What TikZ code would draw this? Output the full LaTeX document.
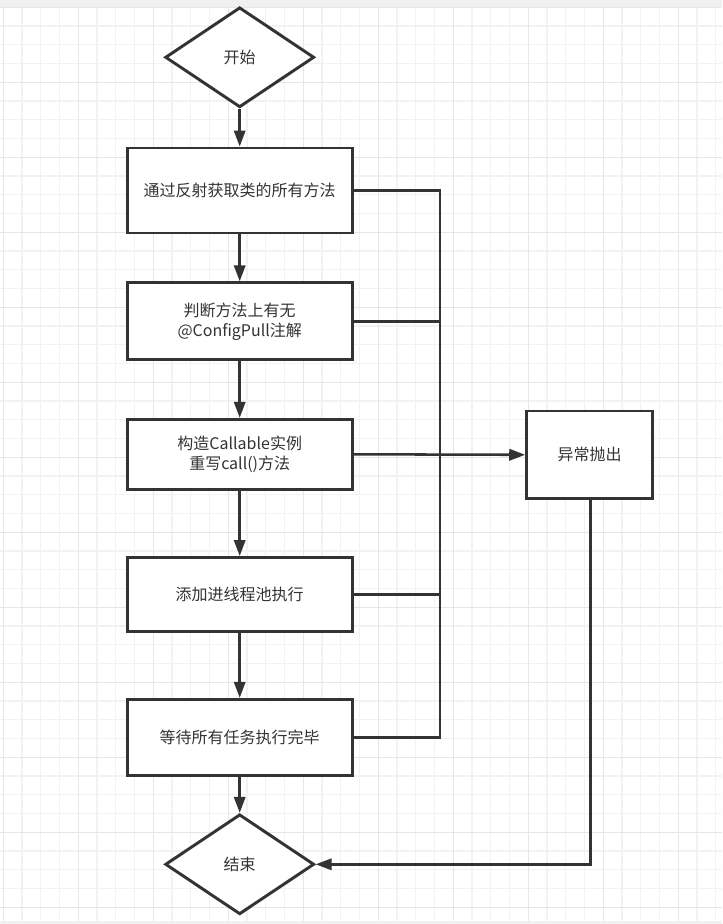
\documentclass[tikz,border=0pt]{standalone}
\usepackage{fontspec}
\setmainfont{Noto Sans CJK SC}
\usetikzlibrary{shapes.geometric,arrows.meta}
\definecolor{ink}{RGB}{51,51,51}
\definecolor{gridminor}{RGB}{242,242,242}
\definecolor{gridmajor}{RGB}{230,230,230}
\definecolor{band}{RGB}{240,240,240}
\tikzset{
  px/.style={x=0.75pt,y=-0.75pt},
  box/.style={draw=ink,line width=2.2pt,fill=white,rectangle,inner sep=0pt,
    minimum width=168.75pt,align=center,text=ink,font=\fontsize{12pt}{15pt}\selectfont},
  dia/.style={draw=ink,line width=2.2pt,fill=white,diamond,inner sep=0pt,
    minimum width=111.75pt,minimum height=75pt,text=ink,font=\fontsize{12pt}{15pt}\selectfont},
  conn/.style={draw=ink,line width=1.9pt},
  arr/.style={conn,-{Triangle[length=12pt,width=8.5pt]}}
}
\begin{document}
\begin{tikzpicture}[px]
\useasboundingbox (0,0) rectangle (722,924);
% background
\fill[white] (0,0) rectangle (722,924);
\fill[band] (0,0) rectangle (722,7);
\fill[band] (0,921) rectangle (722,924);
\foreach \i in {0,...,38} {
  \pgfmathsetmacro{\xx}{3.3+18.75*\i}
  \draw[gridminor,line width=0.9pt] (\xx,7) -- (\xx,921);
}
\foreach \i in {0,...,48} {
  \pgfmathsetmacro{\yy}{7.3+18.75*\i}
  \ifdim\yy pt<921pt \draw[gridminor,line width=0.9pt] (0,\yy) -- (722,\yy);\fi
}
\foreach \i in {0,...,9} {
  \pgfmathsetmacro{\xx}{3.3+75*\i}
  \draw[gridmajor,line width=0.9pt] (\xx,7) -- (\xx,921);
}
\foreach \i in {0,...,12} {
  \pgfmathsetmacro{\yy}{7.3+75*\i}
  \ifdim\yy pt<921pt \draw[gridmajor,line width=0.9pt] (0,\yy) -- (722,\yy);\fi
}

% nodes
\node[dia] (start) at (239.7,57.3) {开始};
\node[box,minimum height=63.75pt] (b1) at (239.7,190.5) {通过反射获取类的所有方法};
\node[box,minimum height=57.75pt] (b2) at (239.7,321.3) {判断方法上有无\\@ConfigPull注解};
\node[box,minimum height=52.5pt] (b3) at (239.7,454.3) {构造Callable实例\\重写call()方法};
\node[box,minimum height=55.5pt] (b4) at (239.7,594.5) {添加进线程池执行};
\node[box,minimum height=57pt] (b5) at (239.7,737.3) {等待所有任务执行完毕};
\node[dia] (end) at (239.7,864.3) {结束};
\node[box,minimum width=94.5pt,minimum height=65.75pt] (ex) at (589.7,454.8) {异常抛出};

\coordinate (j1) at (440,190.5);
\coordinate (j5) at (440,737.3);
\coordinate (jx) at (590.7,864.3);

% vertical flow
\draw[arr] (start) -- (b1);
\draw[arr] (b1) -- (b2);
\draw[arr] (b2) -- (b3);
\draw[arr] (b3) -- (b4);
\draw[arr] (b4) -- (b5);
\draw[arr] (b5) -- (end);

% exception collection
\draw[conn] (b1.east) -- (j1) -- (j5) -- (b5.east);
\draw[conn] (b2.east) -- (b2.east -| j1);
\draw[conn] (b4.east) -- (b4.east -| j1);
\draw[arr] (b3.east) -- (ex.west);
\draw[arr] (ex.south -| jx) -- (jx) -- (end.east);
\end{tikzpicture}
\end{document}
